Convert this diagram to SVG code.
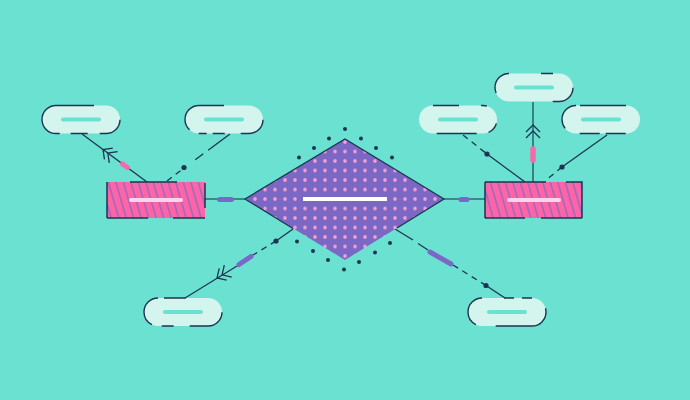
<svg xmlns="http://www.w3.org/2000/svg" width="690" height="400" viewBox="0 0 690 400">
  <style>
    .pill{fill:#d4f4ee}
    .pout{fill:none;stroke:#1c3550;stroke-width:1.4}
    .pbar{stroke:#6be1d2;stroke-width:4;stroke-linecap:round}
    .rbar{stroke:#fcd6e8;stroke-width:4;stroke-linecap:round}
    .rout{fill:none;stroke:#1c3550;stroke-width:1.5}
    .ln{fill:none;stroke:#1c3550;stroke-width:1.3}
    .lt{fill:none;stroke:#2c6a72;stroke-width:1.6}
    .dash{stroke-dasharray:6 5}
    .pu{stroke:#7b68c6;stroke-width:5;stroke-linecap:round}
    .pk{stroke:#f36ba8;stroke-width:5.5;stroke-linecap:round}
    .nd{fill:#1c3550}
  </style>
  <defs>
    <pattern id="stripes" patternUnits="userSpaceOnUse" width="7.2" height="10" patternTransform="rotate(-16)">
      <rect width="7.2" height="10" fill="#ff64a6"/>
      <line x1="3.6" y1="0" x2="3.6" y2="10" stroke="#7a6cc8" stroke-width="1.2"/>
    </pattern>
    <pattern id="dots" patternUnits="userSpaceOnUse" x="340" y="194.25" width="10" height="9.5">
      <rect width="10" height="9.5" fill="#7b68c4"/>
      <circle cx="5" cy="4.75" r="1.8" fill="#f5a0d0"/>
    </pattern>
    <path id="chev" d="M-7,7 L0,0 L7,7 M-7,13 L0,6 L7,13" fill="none" stroke="#1c3550" stroke-width="1.3"/>
  </defs>

  <rect width="690" height="400" fill="#6be1d2"/>

  <g id="connectors">
    <line class="lt" x1="205" y1="199" x2="245" y2="199"/>
    <line class="pu" x1="219.5" y1="199.5" x2="231.5" y2="199.5"/>
    <line class="lt" x1="444" y1="199" x2="485" y2="199"/>
    <line class="pu" x1="461" y1="199.5" x2="467" y2="199.5"/>
    <line class="ln" x1="147" y1="182" x2="82" y2="134"/>
    <use href="#chev" transform="translate(103,149.5) rotate(-53.5)"/>
    <line class="pk" x1="122.5" y1="164" x2="127.5" y2="167.5" style="stroke-width:5"/>
    <line class="ln dash" x1="167" y1="181" x2="184" y2="168"/>
    <line class="ln" x1="184" y1="168" x2="230" y2="134" style="stroke-dasharray:0 14 10 6 30"/>
    <circle class="nd" cx="184" cy="167.5" r="2.6"/>
    <line class="lt" x1="533" y1="102" x2="533" y2="182"/>
    <use href="#chev" transform="translate(533,125)"/>
    <line class="pk" x1="533" y1="149" x2="533" y2="160"/>
    <line class="ln dash" x1="463" y1="135" x2="487" y2="154"/>
    <line class="ln" x1="487" y1="154" x2="525" y2="182"/>
    <circle class="nd" cx="487" cy="154" r="2.6"/>
    <line class="ln" x1="607" y1="135" x2="562" y2="167"/>
    <line class="ln dash" x1="562" y1="167" x2="545" y2="181"/>
    <circle class="nd" cx="562" cy="167" r="2.6"/>
    <line class="ln" x1="293" y1="229" x2="276" y2="241"/>
    <line class="ln dash" x1="276" y1="241" x2="253" y2="255"/>
    <line class="ln" x1="237" y1="266" x2="185" y2="298"/>
    <use href="#chev" transform="translate(217,278) rotate(-122)"/>
    <line class="pu" x1="239" y1="264.5" x2="251" y2="256.5"/>
    <circle class="nd" cx="276" cy="241" r="2.6"/>
    <line class="ln" x1="395" y1="229" x2="413" y2="240"/>
    <line class="ln" x1="418" y1="243.5" x2="428" y2="250"/>
    <line class="ln dash" x1="453" y1="265" x2="486" y2="285.5"/>
    <line class="ln" x1="486" y1="285.5" x2="505" y2="298"/>
    <line class="pu" x1="430" y1="252" x2="451" y2="264"/>
    <circle class="nd" cx="486" cy="285.5" r="2.6"/>
  </g>

  <g id="diamond">
    <polygon points="245,199 345,139 444,199 345,260" fill="url(#dots)"/>
    <path class="ln" d="M293,228.5 L245,199 L345,139 L444,199 L397,228"/>
    <rect x="303" y="197" width="84" height="4" fill="#ffffff"/>
    <g class="nd">
      <circle cx="345" cy="129" r="2"/>
      <circle cx="329" cy="138.5" r="2"/>
      <circle cx="361" cy="138.5" r="2"/>
      <circle cx="314" cy="148" r="2"/>
      <circle cx="376" cy="148" r="2"/>
      <circle cx="299" cy="157.5" r="2"/>
      <circle cx="392" cy="157.5" r="2"/>
      <circle cx="297" cy="241.5" r="2"/>
      <circle cx="313" cy="251" r="2"/>
      <circle cx="328" cy="260" r="2"/>
      <circle cx="344" cy="269.5" r="2"/>
      <circle cx="359" cy="262" r="2"/>
      <circle cx="375" cy="252.5" r="2"/>
      <circle cx="390" cy="243" r="2"/>
    </g>
  </g>

  <g id="entity1">
    <rect x="107" y="182" width="98" height="36" fill="url(#stripes)"/>
    <path class="rout" d="M107,182 V218 M130,182 H177 M107,218 H148 M173,218 H205 M205,183 V208"/>
    <line class="rbar" x1="131" y1="200" x2="181" y2="200"/>
  </g>

  <g id="entity2">
    <rect x="485" y="182" width="97" height="36" fill="url(#stripes)"/>
    <path class="rout" d="M485,182 V218 M485,182 H546 M566,182 H582 V218 M485,218 H525 M541,218 H582"/>
    <line class="rbar" x1="509" y1="200" x2="559" y2="200"/>
  </g>

  <g id="attr1">
    <rect class="pill" x="42" y="105.5" width="78" height="28" rx="14"/>
    <rect class="pout" x="42" y="105.5" width="78" height="28" rx="14" stroke-dasharray="38 34 28 12 17 11 48"/>
    <line class="pbar" x1="63" y1="119.5" x2="99" y2="119.5"/>
  </g>
  <g id="attr2">
    <rect class="pill" x="185" y="105.5" width="78" height="28" rx="14"/>
    <rect class="pout" x="185" y="105.5" width="78" height="28" rx="14" stroke-dasharray="25 47 30 16 12 6 8 10 34"/>
    <line class="pbar" x1="206" y1="119.5" x2="242" y2="119.5"/>
  </g>
  <g id="attr3">
    <rect class="pill" x="495" y="73.5" width="78" height="28" rx="14"/>
    <rect class="pout" x="495" y="73.5" width="78" height="28" rx="14" stroke-dasharray="0 32 12 28 28 60 28"/>
    <line class="pbar" x1="516" y1="87.5" x2="552" y2="87.5"/>
  </g>
  <g id="attr4">
    <rect class="pill" x="419" y="105.5" width="78" height="28" rx="14"/>
    <rect class="pout" x="419" y="105.5" width="78" height="28" rx="14" stroke-dasharray="26 22 6 22 12 12 40 48"/>
    <line class="pbar" x1="440" y1="119.5" x2="476" y2="119.5"/>
  </g>
  <g id="attr5">
    <rect class="pill" x="562" y="105.5" width="78" height="28" rx="14"/>
    <rect class="pout" x="562" y="105.5" width="78" height="28" rx="14" stroke-dasharray="0 4 46 44 20 6 20 16 32"/>
    <line class="pbar" x1="583" y1="119.5" x2="619" y2="119.5"/>
  </g>
  <g id="attr6">
    <rect class="pill" x="144" y="298" width="78" height="28" rx="14"/>
    <rect class="pout" x="144" y="298" width="78" height="28" rx="14" stroke-dasharray="0 6 22 44 40 16 12 10 38"/>
    <line class="pbar" x1="165" y1="312" x2="201" y2="312"/>
  </g>
  <g id="attr7">
    <rect class="pill" x="468" y="298" width="78" height="28" rx="14"/>
    <rect class="pout" x="468" y="298" width="78" height="28" rx="14" stroke-dasharray="0 22 10 8 10 18 62 20 38"/>
    <line class="pbar" x1="489" y1="312" x2="525" y2="312"/>
  </g>
</svg>
